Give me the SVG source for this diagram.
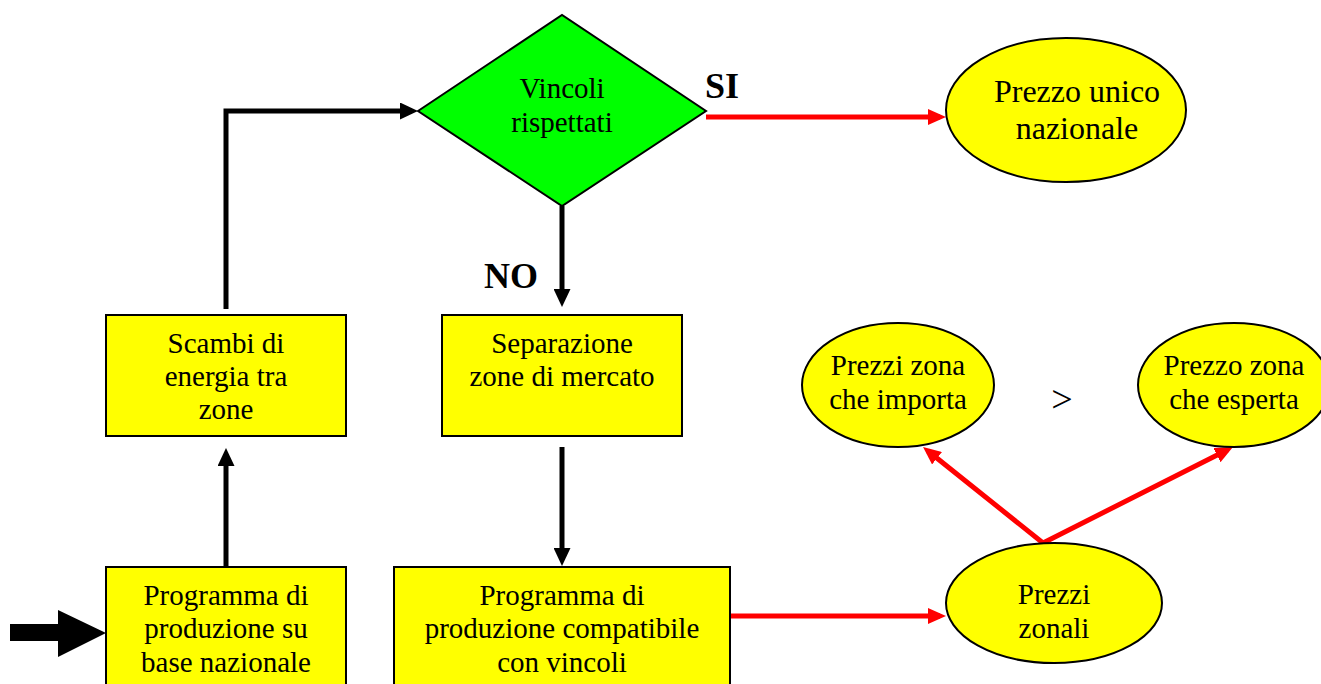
<svg xmlns="http://www.w3.org/2000/svg" width="1321" height="684" viewBox="0 0 1321 684">
<style>
  .box { fill: #ffff00; stroke: #000; stroke-width: 2; }
  .ell { fill: #ffff00; stroke: #000; stroke-width: 2; }
  .dia { fill: #00ff00; stroke: #000; stroke-width: 2; }
  .t { font-family: "Liberation Serif", "Times New Roman", serif; font-size: 29px; fill: #000; text-anchor: middle; }
  .tb { font-family: "Liberation Serif", "Times New Roman", serif; font-size: 36px; font-weight: bold; fill: #000; }
  .blk { fill: none; stroke: #000; stroke-width: 5; stroke-linejoin: miter; stroke-linecap: butt; marker-end: url(#ab); }
  .red { fill: none; stroke: #ff0000; stroke-width: 5; stroke-linejoin: miter; stroke-linecap: butt; marker-end: url(#ar); }
</style>
<defs>
  <marker id="ab" markerUnits="userSpaceOnUse" markerWidth="18" markerHeight="17" refX="12" refY="8.5" orient="auto">
    <path d="M0,0 L18,8.5 L0,17 z" fill="#000"/>
  </marker>
  <marker id="ar" markerUnits="userSpaceOnUse" markerWidth="18" markerHeight="16" refX="12" refY="8" orient="auto-start-reverse">
    <path d="M0,0 L18,8 L0,16 z" fill="#ff0000"/>
  </marker>
</defs>
<rect width="1321" height="684" fill="#fff"/>

<g id="connectors">
  <path class="blk" d="M226,309 L226,111 L412,111"/>
  <path class="blk" d="M226,567 L226,454"/>
  <path class="blk" d="M562,206 L562,301"/>
  <path class="blk" d="M562,447 L562,560"/>
  <path class="red" d="M706,117 L940,117"/>
  <path class="red" d="M730,616 L940,616"/>
  <path class="red" d="M927.7,450.7 L1043,543 L1227.6,449.7" style="marker-start:url(#ar)"/>
  <polygon id="input-arrow" points="10,624 58,624 58,610 106,633 58,657 58,641 10,641" fill="#000"/>
</g>

<g id="decision">
  <polygon class="dia" points="418,111 562,15 706,111 562,206"/>
  <text class="t" x="562" y="98">Vincoli</text>
  <text class="t" x="562" y="132">rispettati</text>
</g>
<text class="tb" x="705" y="98">SI</text>
<text class="tb" x="484" y="288">NO</text>

<g id="prezzo-unico">
  <ellipse class="ell" cx="1066" cy="110" rx="120" ry="72"/>
  <text class="t" style="font-size:32px" x="1077" y="102">Prezzo unico</text>
  <text class="t" style="font-size:32px" x="1077" y="139">nazionale</text>
</g>

<g id="scambi">
  <rect class="box" x="106" y="315" width="240" height="121"/>
  <text class="t" x="226" y="353">Scambi di</text>
  <text class="t" x="226" y="386">energia tra</text>
  <text class="t" x="226" y="419">zone</text>
</g>

<g id="separazione">
  <rect class="box" x="442" y="315" width="240" height="121"/>
  <text class="t" x="562" y="353">Separazione</text>
  <text class="t" x="562" y="386">zone di mercato</text>
</g>

<g id="programma-nazionale">
  <rect class="box" x="106" y="567" width="240" height="125"/>
  <text class="t" x="226" y="605">Programma di</text>
  <text class="t" x="226" y="638">produzione su</text>
  <text class="t" x="226" y="672">base nazionale</text>
</g>

<g id="programma-compatibile">
  <rect class="box" x="394" y="567" width="336" height="125"/>
  <text class="t" x="562" y="605">Programma di</text>
  <text class="t" x="562" y="638">produzione compatibile</text>
  <text class="t" x="562" y="672">con vincoli</text>
</g>

<g id="prezzi-zonali">
  <ellipse class="ell" cx="1054" cy="603" rx="108" ry="60"/>
  <text class="t" x="1054" y="604">Prezzi</text>
  <text class="t" x="1054" y="638">zonali</text>
</g>

<g id="prezzi-importa">
  <ellipse class="ell" cx="898" cy="385" rx="96" ry="62"/>
  <text class="t" x="898" y="375">Prezzi zona</text>
  <text class="t" x="898" y="409">che importa</text>
</g>

<text class="t" style="font-size:38px" x="1062" y="412">&gt;</text>

<g id="prezzo-esporta">
  <ellipse class="ell" cx="1234" cy="385" rx="96" ry="62"/>
  <text class="t" x="1234" y="375">Prezzo zona</text>
  <text class="t" x="1234" y="409">che esperta</text>
</g>
</svg>
